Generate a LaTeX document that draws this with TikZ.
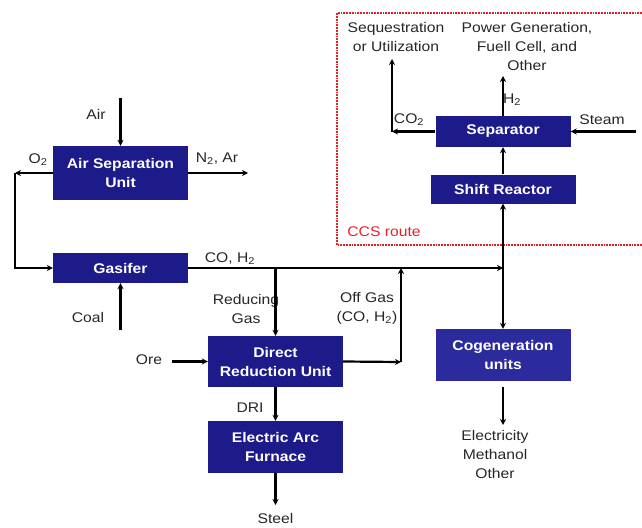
\documentclass[tikz,border=0pt]{standalone}
\usepackage{fontspec}
\setmainfont[FakeStretch=1.12]{Liberation Sans}
\usetikzlibrary{arrows.meta}
\definecolor{boxblue}{HTML}{1D1A8A}
\definecolor{cogblue}{HTML}{2B2B9E}
\definecolor{ccsred}{HTML}{E8202A}
\tikzset{
  procbox/.style={draw=none, fill=boxblue, text=white, font=\fontsize{14}{19}\selectfont\bfseries, align=center, inner sep=0pt},
  lbl/.style={font=\fontsize{14}{19}\selectfont, align=center, inner sep=0pt, text=black!85},
  arr/.style={line width=2.2pt, -{Stealth[length=6pt,width=6pt]}},
}
\newcommand{\sbt}[1]{\textsubscript{#1}}
\begin{document}
\begin{tikzpicture}[x=1pt,y=-1pt]
\useasboundingbox (0,0) rectangle (642,527);
% CCS route frame
\draw[ccsred, line width=1.8pt, densely dotted] (642,13) -- (337,13) -- (337,245) -- (642,245);
\node[lbl, text=ccsred] (ccs) at (384,232) {CCS route};

% boxes
\node[procbox, minimum width=135pt, minimum height=54pt] (asu) at (120.5,173) {Air Separation\\Unit};
\node[procbox, minimum width=135pt, minimum height=30pt] (gas) at (120.5,268) {Gasifer};
\node[procbox, minimum width=135pt, minimum height=51pt] (dru) at (275.5,361.5) {Direct\\Reduction Unit};
\node[procbox, minimum width=135pt, minimum height=52pt] (eaf) at (275.5,447) {Electric Arc\\Furnace};
\node[procbox, fill=cogblue, minimum width=135pt, minimum height=52pt] (cog) at (503,355) {Cogeneration\\units};
\node[procbox, minimum width=145pt, minimum height=29pt] (shift) at (503,189) {Shift Reactor};
\node[procbox, minimum width=135pt, minimum height=31pt] (sep) at (503,131.5) {Separator};

% coordinates
\coordinate (airin) at (120.5,98);
\coordinate (o2c) at (15,173);
\coordinate (n2out) at (248,173);
\coordinate (coalin) at (120.5,330);
\coordinate (j1) at (275.5,268);
\coordinate (j2) at (401,268);
\coordinate (j3) at (503,268);
\coordinate (ogc) at (401,362);
\coordinate (orein) at (172,361.5);
\coordinate (steelout) at (275.5,505);
\coordinate (cogout) at (503,425);
\coordinate (h2out) at (503,76);
\coordinate (co2c) at (392,131.5);
\coordinate (co2out) at (392,59);
\coordinate (steamin) at (636,131.5);

% labels
\node[lbl] (air) at (96,114) {Air};
\node[lbl] (o2) at (38,160) {O\sbt{2}};
\node[lbl] (n2) at (217,159) {N\sbt{2}, Ar};
\node[lbl] (coh) at (230,259) {CO, H\sbt{2}};
\node[lbl] (coal) at (88,317) {Coal};
\node[lbl] (redgas) at (246,309) {Reducing\\Gas};
\node[lbl] (offgas) at (367,308) {Off Gas\\(CO, H\sbt{2})};
\node[lbl] (ore) at (149,360) {Ore};
\node[lbl] (dri) at (250,408) {DRI};
\node[lbl] (steel) at (275.5,518) {Steel};
\node[lbl] (elec) at (495,454) {Electricity\\Methanol\\Other};
\node[lbl] (seq) at (396,37) {Sequestration\\or Utilization};
\node[lbl] (power) at (527,46) {Power Generation,\\Fuell Cell, and\\Other};
\node[lbl] (h2) at (512,100) {H\sbt{2}};
\node[lbl] (co2) at (409,120) {CO\sbt{2}};
\node[lbl] (steam) at (602,120) {Steam};

% connectors
\draw[arr] (airin) -- (asu.north);
\draw[arr] (asu.west) -- (o2c);
\draw[arr] (o2c) |- (gas.west);
\draw[arr] (asu.east) -- (n2out);
\draw[arr] (coalin) -- (gas.south);
\draw[arr] (gas.east) -- (j3);
\draw[arr] (j1) -- (dru.north);
\draw[arr] (dru.east) -- (ogc);
\draw[arr] (ogc) -- (j2);
\draw[arr, line width=3.2pt] (orein) -- (dru.west);
\draw[arr] (dru.south) -- (eaf.north);
\draw[arr] (eaf.south) -- (steelout);
\draw[arr] (j3) -- (shift.south);
\draw[arr] (j3) -- (cog.north);
\draw[arr, shorten <=6pt] (cog.south) -- (cogout);
\draw[arr] (shift.north) -- (sep.south);
\draw[arr] (sep.north) -- (h2out);
\draw[arr] (sep.west) -- (co2c);
\draw[arr] (co2c) -- (co2out);
\draw[arr] (steamin) -- (sep.east);
\end{tikzpicture}
\end{document}
